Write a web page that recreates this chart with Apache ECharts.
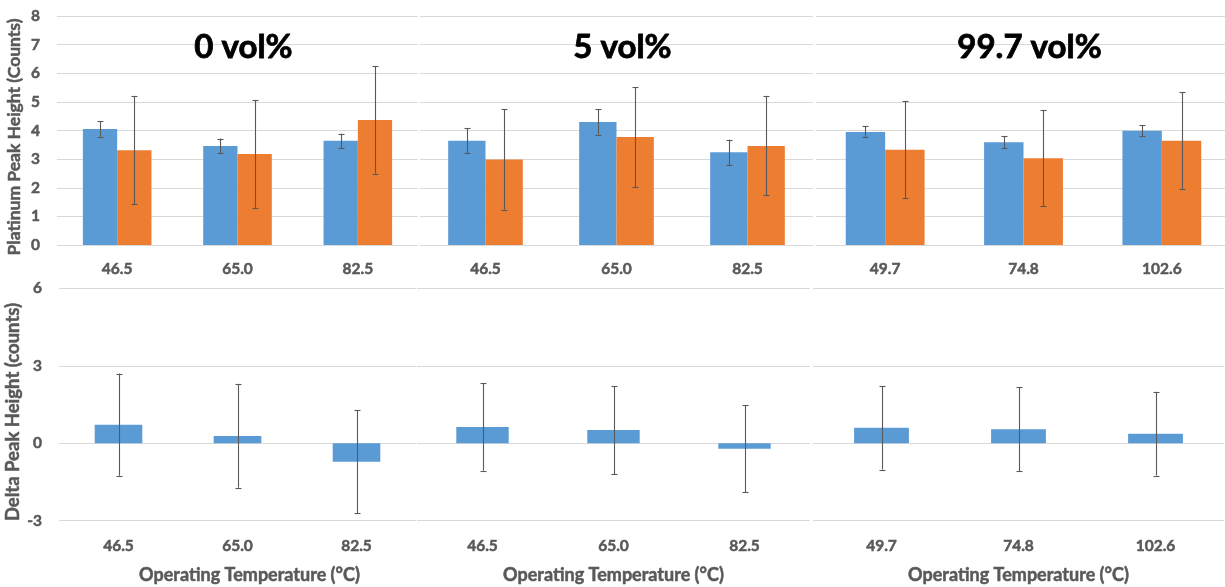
<!DOCTYPE html>
<html>
<head>
<meta charset="utf-8">
<script src="https://cdn.jsdelivr.net/npm/echarts@6/dist/echarts.min.js"></script>
<style>html,body{margin:0;padding:0;background:#fff;}#c{width:1225px;height:587px;}</style>
</head>
<body>
<div id="c"></div>
<script>
// ---- data ----
var cat0 = ['46.5', '65.0', '82.5'];
var cat5 = ['46.5', '65.0', '82.5'];
var cat997 = ['49.7', '74.8', '102.6'];
var panelTitles = ['0 vol%', '5 vol%', '99.7 vol%'];

var blue0 = [4.05, 3.46, 3.64];
var blueErr0 = [0.27, 0.26, 0.25];
var orange0 = [3.31, 3.18, 4.37];
var orangeErr0 = [1.88, 1.88, 1.88];

var blue5 = [3.64, 4.30, 3.24];
var blueErr5 = [0.44, 0.44, 0.44];
var orange5 = [2.99, 3.77, 3.46];
var orangeErr5 = [1.75, 1.75, 1.73];

var blue997 = [3.95, 3.59, 3.99];
var blueErr997 = [0.19, 0.21, 0.19];
var orange997 = [3.33, 3.03, 3.64];
var orangeErr997 = [1.70, 1.68, 1.70];

var delta0 = [0.72, 0.28, -0.72];
var deltaErr0 = [1.98, 2.00, 2.00];
var delta5 = [0.63, 0.51, -0.21];
var deltaErr5 = [1.69, 1.70, 1.69];
var delta997 = [0.60, 0.54, 0.37];
var deltaErr997 = [1.62, 1.63, 1.62];

var xName = 'Operating Temperature (°C)';
var yNameTop = 'Platinum Peak Height (Counts)';
var yNameBottom = 'Delta Peak Height (counts)';

// ---- styling ----
var FONT = 'Lato, "Open Sans", sans-serif';
var TXT = '#595959';
var GRID = '#d9d9d9';
var BLUE = '#5b9bd5';
var ORANGE = '#ed7d31';
var ERR = '#595959';
var BAR_W = 0.285;
var DBAR_W = 0.40;

var cats = [cat0, cat5, cat997];
var blues = [blue0, blue5, blue997];
var blueErrs = [blueErr0, blueErr5, blueErr997];
var oranges = [orange0, orange5, orange997];
var orangeErrs = [orangeErr0, orangeErr5, orangeErr997];
var deltas = [delta0, delta5, delta997];
var deltaErrs = [deltaErr0, deltaErr5, deltaErr997];

var topGrids = [
  {left: 57, width: 361},
  {left: 420, width: 393},
  {left: 816, width: 415}
];
var botGrids = [
  {left: 59, width: 357},
  {left: 417, width: 393},
  {left: 813, width: 411}
];

function errRender(offsetFrac) {
  return function (params, api) {
    var i = api.value(0), v = api.value(1), e = api.value(2);
    var hi = api.coord([i, v + e]);
    var lo = api.coord([i, v - e]);
    var band = api.size([1, 0])[0];
    var x = Math.round(hi[0] + band * offsetFrac) + 0.5;
    var cap = 3;
    var st = {stroke: ERR, lineWidth: 1.1};
    return {
      type: 'group',
      children: [
        {type: 'line', shape: {x1: x, y1: hi[1], x2: x, y2: lo[1]}, style: st},
        {type: 'line', shape: {x1: x - cap, y1: Math.round(hi[1]) + 0.5, x2: x + cap, y2: Math.round(hi[1]) + 0.5}, style: st},
        {type: 'line', shape: {x1: x - cap, y1: Math.round(lo[1]) + 0.5, x2: x + cap, y2: Math.round(lo[1]) + 0.5}, style: st}
      ]
    };
  };
}

function errData(vals, errs) {
  return vals.map(function (v, i) { return [i, v, errs[i]]; });
}

var grid = [], xAxis = [], yAxis = [], series = [], title = [];

for (var p = 0; p < 3; p++) {
  grid.push({left: topGrids[p].left, width: topGrids[p].width, top: 16, height: 229, outerBoundsMode: 'none', containLabel: false});
  grid.push({left: botGrids[p].left, width: botGrids[p].width, top: 288.3, height: 232.4, outerBoundsMode: 'none', containLabel: false});
}

for (var p = 0; p < 3; p++) {
  var gt = p * 2, gb = p * 2 + 1;
  var labelStyle = {color: TXT, fontFamily: FONT, fontWeight: 'bold', fontSize: 15.5,
    textBorderColor: TXT, textBorderWidth: 0.5};
  var nameStyle = {color: TXT, fontFamily: FONT, fontWeight: 'bold',
    textBorderColor: TXT, textBorderWidth: 0.5};
  xAxis.push({
    type: 'category', gridIndex: gt, data: cats[p],
    axisLine: {show: false}, axisTick: {show: false},
    axisLabel: Object.assign({margin: 16}, labelStyle)
  });
  xAxis.push({
    type: 'category', gridIndex: gb, data: cats[p],
    axisLine: {show: false}, axisTick: {show: false},
    axisLabel: Object.assign({margin: 17}, labelStyle),
    name: xName, nameLocation: 'middle', nameGap: 45,
    nameTextStyle: Object.assign({fontSize: 18, padding: p === 0 ? [0, 0, 0, 24] : 0}, nameStyle)
  });
  yAxis.push({
    type: 'value', gridIndex: gt, min: 0, max: 8, interval: 1,
    axisLine: {show: false}, axisTick: {show: false},
    splitLine: {lineStyle: {color: GRID, width: 1}},
    axisLabel: Object.assign({show: p === 0, margin: 17}, labelStyle),
    name: p === 0 ? yNameTop : '', nameLocation: 'middle', nameGap: 34,
    nameTextStyle: Object.assign({fontSize: 17.5, padding: [0, 13, 0, 0]}, nameStyle)
  });
  yAxis.push({
    type: 'value', gridIndex: gb, min: -3, max: 6, interval: 3,
    axisLine: {show: false}, axisTick: {show: false},
    splitLine: {lineStyle: {color: GRID, width: 1}},
    axisLabel: Object.assign({show: p === 0, margin: 17}, labelStyle),
    name: p === 0 ? yNameBottom : '', nameLocation: 'middle', nameGap: 35,
    nameTextStyle: Object.assign({fontSize: 18.5, padding: [0, 15, 0, 0]}, nameStyle)
  });

  var xt = p * 2, xb = p * 2 + 1;
  series.push({
    type: 'bar', xAxisIndex: xt, yAxisIndex: xt, data: blues[p],
    barWidth: (BAR_W * 100) + '%', barGap: '0%',
    itemStyle: {color: BLUE}, silent: true
  });
  series.push({
    type: 'bar', xAxisIndex: xt, yAxisIndex: xt, data: oranges[p],
    barWidth: (BAR_W * 100) + '%', barGap: '0%',
    itemStyle: {color: ORANGE}, silent: true
  });
  series.push({
    type: 'custom', xAxisIndex: xt, yAxisIndex: xt, z: 5,
    renderItem: errRender(-BAR_W / 2), data: errData(blues[p], blueErrs[p]),
    encode: {x: 0, y: 1}, silent: true
  });
  series.push({
    type: 'custom', xAxisIndex: xt, yAxisIndex: xt, z: 5,
    renderItem: errRender(BAR_W / 2), data: errData(oranges[p], orangeErrs[p]),
    encode: {x: 0, y: 1}, silent: true
  });
  series.push({
    type: 'bar', xAxisIndex: xb, yAxisIndex: xb, data: deltas[p],
    barWidth: (DBAR_W * 100) + '%',
    itemStyle: {color: BLUE}, silent: true
  });
  series.push({
    type: 'custom', xAxisIndex: xb, yAxisIndex: xb, z: 5,
    renderItem: errRender(0), data: errData(deltas[p], deltaErrs[p]),
    encode: {x: 0, y: 1}, silent: true
  });

  title.push({
    text: panelTitles[p],
    left: topGrids[p].left + topGrids[p].width / 2 + 1, top: 26, textAlign: 'center',
    textStyle: {color: '#000', fontFamily: FONT, fontWeight: 'bold', fontSize: 33,
      textBorderColor: '#000', textBorderWidth: 0.8}
  });
}

var chart = echarts.init(document.getElementById('c'), null, {renderer: 'canvas'});
chart.setOption({
  animation: false,
  backgroundColor: '#fff',
  title: title,
  grid: grid,
  xAxis: xAxis,
  yAxis: yAxis,
  series: series
});
</script>
</body>
</html>
